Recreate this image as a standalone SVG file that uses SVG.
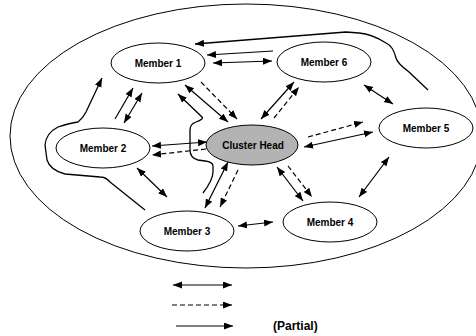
<svg xmlns="http://www.w3.org/2000/svg" width="476" height="336" viewBox="0 0 476 336">
<style>
.node{fill:#fff;stroke:#000;stroke-width:1}
.ch{fill:#b3b3b3;stroke:#000;stroke-width:1}
.lbl{font-family:"Liberation Sans",Arial,sans-serif;font-weight:bold;font-size:10px;text-anchor:middle;fill:#000}
.a{fill:none;stroke:#000;stroke-width:1.2}
.d{fill:none;stroke:#000;stroke-width:1.2;stroke-dasharray:5,3}
.p{fill:none;stroke:#000;stroke-width:1.3;stroke-linejoin:round}
.dbl{marker-start:url(#ah);marker-end:url(#ah)}
.one{marker-end:url(#ah)}
</style>
<defs>
<marker id="ah" markerUnits="userSpaceOnUse" markerWidth="10" markerHeight="8" refX="9" refY="3.5" orient="auto-start-reverse">
<path d="M0,0 L9,3.5 L0,7 z" fill="#000"/>
</marker>
</defs>
<rect width="476" height="336" fill="#fff"/>
<ellipse cx="246" cy="136" rx="236" ry="132" fill="none" stroke="#000" stroke-width="1"/>
<g id="connectors">
<path class="p one" d="M428,90 L409,72 Q397,63 396,58 Q393,46 386,43 Q372,34 359,33 L346,32 L195,44"/>
<line class="a one" x1="273" y1="51" x2="207" y2="55"/>
<line class="a dbl" x1="213" y1="63" x2="272" y2="61"/>
<line class="a dbl" x1="185" y1="85" x2="228" y2="122"/>
<line class="d one" x1="201" y1="82" x2="237" y2="119"/>
<path class="p one" d="M203,193 Q213,180 213,172 L213,166 Q213,162 205,161 L198,160 Q190,158 190,150 L190,130 Q190,124 196,122 Q204,119 202,117 L178,94"/>
<line class="a one" x1="115" y1="119" x2="133" y2="88"/>
<line class="a dbl" x1="124" y1="123" x2="142" y2="93"/>
<path class="p one" d="M145,210 L110,182 Q106,177 100,177 L65,174 Q50,170 47,160 L45,145 Q46,133 58,127 Q70,123 78,122 Q83,118 86,112 L102,78"/>
<line class="a dbl" x1="152" y1="146" x2="207" y2="142"/>
<line class="d one" x1="206" y1="149" x2="152" y2="155"/>
<line class="a dbl" x1="137" y1="168" x2="167" y2="197"/>
<line class="a dbl" x1="228" y1="162" x2="205" y2="208"/>
<line class="d one" x1="238" y1="170" x2="220" y2="207"/>
<line class="a dbl" x1="238" y1="226" x2="273" y2="222"/>
<line class="a dbl" x1="277" y1="167" x2="303" y2="201"/>
<line class="d one" x1="288" y1="166" x2="312" y2="197"/>
<line class="a dbl" x1="389" y1="157" x2="359" y2="197"/>
<line class="a dbl" x1="304" y1="147" x2="373" y2="132"/>
<line class="d one" x1="308" y1="137" x2="363" y2="122"/>
<line class="a dbl" x1="364" y1="85" x2="393" y2="104"/>
<line class="a dbl" x1="261" y1="119" x2="294" y2="82"/>
<line class="d one" x1="274" y1="118" x2="299" y2="87"/>
</g>
<g id="member1"><ellipse class="node" cx="158" cy="63" rx="47" ry="20"/><text class="lbl" x="158" y="67">Member 1</text></g>
<g id="member6"><ellipse class="node" cx="324" cy="62" rx="47" ry="20"/><text class="lbl" x="324" y="66">Member 6</text></g>
<g id="member2"><ellipse class="node" cx="103" cy="148" rx="47" ry="20"/><text class="lbl" x="103" y="152">Member 2</text></g>
<g id="clusterhead"><ellipse class="ch" cx="252" cy="145" rx="46" ry="20"/><text class="lbl" x="253" y="149">Cluster Head</text></g>
<g id="member5"><ellipse class="node" cx="426" cy="128" rx="47" ry="20"/><text class="lbl" x="426" y="132">Member 5</text></g>
<g id="member3"><ellipse class="node" cx="187" cy="231" rx="47" ry="20"/><text class="lbl" x="187" y="235">Member 3</text></g>
<g id="member4"><ellipse class="node" cx="330" cy="222" rx="47" ry="20"/><text class="lbl" x="330" y="226">Member 4</text></g>
<g id="legend">
<line class="a dbl" x1="173" y1="285" x2="232" y2="285"/>
<line class="d one" x1="172" y1="305" x2="232" y2="305"/>
<line class="a one" x1="176" y1="326" x2="233" y2="326"/>
<text x="273" y="330" font-family="Liberation Sans, Arial, sans-serif" font-weight="bold" font-size="12">(Partial)</text>
</g>
</svg>
